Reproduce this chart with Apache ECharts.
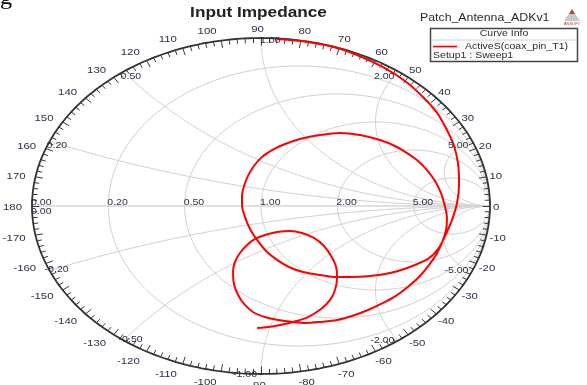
<!DOCTYPE html>
<html><head><meta charset="utf-8">
<script src="https://cdn.jsdelivr.net/npm/echarts/dist/echarts.min.js"></script>
<style>html,body{margin:0;padding:0;background:#fff;overflow:hidden}#c{width:587px;height:385px}</style>
</head><body><div id="c"></div>
<script>
// ---- data: reflection coefficient (Gamma) of the trace, real / imaginary parts ----
const curveRe = [0.070,0.170,0.301,0.419,0.533,0.629,0.707,0.769,0.812,0.843,
0.860,0.865,0.856,0.834,0.808,0.773,0.729,0.638,0.563,0.476,
0.389,0.332,0.258,0.183,0.122,0.070,0.022,-0.017,-0.048,-0.070,
-0.083,-0.083,-0.074,-0.057,-0.031,0.004,0.048,0.105,0.170,0.258,
0.345,0.432,0.520,0.585,0.638,0.686,0.725,0.760,0.786,0.803,
0.812,0.808,0.790,0.764,0.734,0.694,0.646,0.594,0.533,0.467,
0.397,0.332,0.258,0.192,0.140,0.074,0.017,-0.035,-0.074,-0.100,
-0.118,-0.122,-0.114,-0.092,-0.061,-0.026,0.017,0.070,0.127,0.179,
0.231,0.275,0.306,0.328,0.332,0.323,0.301,0.262,0.205,0.140,
0.083,0.031,-0.017];
const curveIm = [0.994,0.982,0.952,0.899,0.827,0.744,0.649,0.554,0.452,0.357,
0.256,0.137,0.018,-0.083,-0.167,-0.256,-0.315,-0.369,-0.399,-0.417,
-0.423,-0.423,-0.411,-0.393,-0.363,-0.321,-0.268,-0.202,-0.137,-0.065,
0.006,0.060,0.119,0.179,0.238,0.292,0.333,0.369,0.399,0.423,
0.435,0.423,0.393,0.357,0.315,0.268,0.214,0.149,0.077,0.000,
-0.071,-0.143,-0.220,-0.292,-0.351,-0.417,-0.476,-0.530,-0.577,-0.619,
-0.655,-0.679,-0.690,-0.696,-0.690,-0.679,-0.661,-0.631,-0.583,-0.530,
-0.464,-0.393,-0.333,-0.280,-0.232,-0.196,-0.173,-0.155,-0.149,-0.161,
-0.190,-0.238,-0.298,-0.363,-0.429,-0.500,-0.560,-0.613,-0.661,-0.690,
-0.708,-0.720,-0.726];
const seriesName = 'ActiveS(coax_pin_T1)';
// Smith grid values and labels
const rValues = [0.2, 0.5, 1, 2, 5];
const rLabels = ['0.20', '0.50', '1.00', '2.00', '5.00'];
const xValues = [0.2, 0.5, 1, 2, 5, -0.2, -0.5, -1, -2, -5];
const xLabels = ['0.20', '0.50', '1.00', '2.00', '5.00', '-0.20', '-0.50', '-1.00', '-2.00', '-5.00'];
const angleTicks = [0,10,20,30,40,50,60,70,80,90,100,110,120,130,140,150,160,170,180,
  -170,-160,-150,-140,-130,-120,-110,-100,-90,-80,-70,-60,-50,-40,-30,-20,-10];

// ---- layout (pixel geometry of the chart area) ----
const G = {left: 32, top: 38, width: 458, height: 336};
const CX = G.left + G.width / 2, CY = G.top + G.height / 2;
const RX = G.width / 2, RY = G.height / 2;
const px = g => CX + RX * g, py = g => CY - RY * g;

function gammaOf(r, x) {
  const d = (r + 1) * (r + 1) + x * x;
  return [(r * r - 1 + x * x) / d, (2 * x) / d];
}
const gridSeries = [];
const gridStyle = {color: '#d0d0d0', width: 1};
// constant resistance circles
rValues.forEach(r => {
  const pts = [];
  const c = r / (r + 1), rad = 1 / (r + 1);
  for (let i = 0; i <= 240; i++) {
    const a = i / 240 * Math.PI * 2;
    pts.push([c + rad * Math.cos(a), rad * Math.sin(a)]);
  }
  gridSeries.push({type: 'line', data: pts, showSymbol: false, silent: true, lineStyle: gridStyle, z: 1});
});
// constant reactance arcs
xValues.forEach(x => {
  const pts = [];
  for (let i = 0; i <= 300; i++) {
    const u = i / 300 * Math.PI / 2 * 0.999;
    pts.push(gammaOf(Math.tan(u), x));
  }
  pts.push([1, 0]);
  gridSeries.push({type: 'line', data: pts, showSymbol: false, silent: true, lineStyle: gridStyle, z: 1});
});
// real axis
gridSeries.push({type: 'line', data: [[-1, 0], [1, 0]], showSymbol: false, silent: true,
  lineStyle: {color: '#d6d6d6', width: 1.5}, z: 1});
// outer rim
const rim = [];
for (let i = 0; i <= 360; i++) { const a = i * Math.PI / 180; rim.push([Math.cos(a), Math.sin(a)]); }
gridSeries.push({type: 'line', data: rim, showSymbol: false, silent: true,
  lineStyle: {color: '#333', width: 1.8}, z: 3});
// rim ticks
const ticks = [];
for (let d = -180; d < 180; d += 2) {
  const a = d * Math.PI / 180;
  const L = (d % 10 === 0) ? 7.5 : 5;
  ticks.push({coords: [[Math.cos(a), Math.sin(a)],
    [(1 - L / RX) * Math.cos(a), (1 - L / RY) * Math.sin(a)]]});
}
gridSeries.push({type: 'lines', coordinateSystem: 'cartesian2d', data: ticks, silent: true,
  lineStyle: {color: '#3a3a3a', width: 1, opacity: 1}, z: 3});

// ---- text elements ----
const SX = 1.17;
const lblColor = '#2f2f48';
const graphics = [];
function txt(text, x, y, opt) {
  opt = opt || {};
  const align = opt.align || 'left', va = opt.va || 'middle';
  graphics.push({type: 'text', x: x, y: y, scaleX: opt.sx || SX, silent: true, z: 100,
    style: {text: text, font: opt.font || '9px "Liberation Sans", Arial, sans-serif',
      fill: opt.fill || lblColor, align: align, textAlign: align,
      verticalAlign: va, textVerticalAlign: va}});
}
// title etc.
txt('g', 0, -2, {font: '22px "Liberation Serif", serif', fill: '#000', sx: 1.1});
txt('Input Impedance', 258.5, 13.5, {align: 'center', font: 'bold 14px "Liberation Sans", Arial, sans-serif', fill: '#222', sx: 1.23});
txt('Patch_Antenna_ADKv1', 420, 17.5, {font: '11px "Liberation Sans", Arial, sans-serif', fill: '#2a2a2a', sx: 1.12});
// legend box
graphics.push({type: 'rect', shape: {x: 430.5, y: 28.5, width: 147, height: 33}, silent: true,
  style: {fill: '#fff', stroke: '#444', lineWidth: 1.5}, z: 90});
graphics.push({type: 'line', shape: {x1: 431, y1: 40, x2: 577, y2: 40}, silent: true,
  style: {stroke: '#c4c4c4', lineWidth: 0.8}, z: 91});
txt('Curve Info', 504, 34, {align: 'center', fill: '#2a2a2a'});
graphics.push({type: 'line', shape: {x1: 433, y1: 46.5, x2: 457, y2: 46.5}, silent: true,
  style: {stroke: '#ff0000', lineWidth: 1.6}, z: 91});
txt(seriesName, 465, 47, {fill: '#2a2a2a'});
txt('Setup1 : Sweep1', 433, 56, {fill: '#2a2a2a'});
// logo
graphics.push({type: 'polygon', shape: {points: [[564, 21], [572, 9], [580, 21]]}, silent: true,
  style: {fill: '#c8c8c8'}, z: 90});
graphics.push({type: 'polygon', shape: {points: [[569, 14], [572, 9], [575, 14]]}, silent: true,
  style: {fill: '#d33'}, z: 91});
txt('ANSOFT', 572, 23.5, {align: 'center', font: '4px "Liberation Sans", sans-serif', fill: '#a33', sx: 1});

// angle labels around rim
angleTicks.forEach(d => {
  const a = d * Math.PI / 180, c = Math.cos(a), s = Math.sin(a);
  const ax = 257.5 + 235.5 * c, ay = 207 - 178 * s;
  const align = c > 0.05 ? 'left' : (c < -0.05 ? 'right' : 'center');
  txt(String(d), ax, ay, {align: align, font: '9.5px "Liberation Sans", Arial, sans-serif', sx: 1.2});
});
// resistance labels on the real axis
txt('0.00', 31, 203);
txt('0.00', 31, 212);
rValues.forEach((r, i) => {
  const g = (r - 1) / (r + 1);
  txt(rLabels[i], px(g) - 1, 203);
});
// reactance labels on the rim
xValues.forEach((x, i) => {
  const g = gammaOf(0, x);
  const X = px(g[0]), Y = py(g[1]);
  let align, dx, dy;
  if (Math.abs(x) === 1) {
    align = x > 0 ? 'left' : 'right'; dx = x > 0 ? -1 : -4; dy = x > 0 ? 2.5 : 1;
  } else if (g[0] < 0) {
    align = 'left'; dx = x > 0 ? -3 : -5; dy = x > 0 ? 4.5 : -1;
  } else {
    align = 'right'; dx = -4; dy = x > 0 ? 4.5 : 0;
  }
  txt(xLabels[i], X + dx, Y + dy, {align: align});
});

const curveData = curveRe.map((v, i) => [v, curveIm[i]]);
const chart = echarts.init(document.getElementById('c'), null, {renderer: 'canvas'});
chart.setOption({
  animation: false,
  backgroundColor: '#fff',
  grid: G,
  xAxis: {type: 'value', min: -1, max: 1, show: false},
  yAxis: {type: 'value', min: -1, max: 1, show: false},
  series: gridSeries.concat([{
    name: seriesName, type: 'line', data: curveData, showSymbol: false, smooth: 0.3,
    lineStyle: {color: '#ff0000', width: 2}, z: 10
  }]),
  graphic: graphics
});
</script></body></html>
